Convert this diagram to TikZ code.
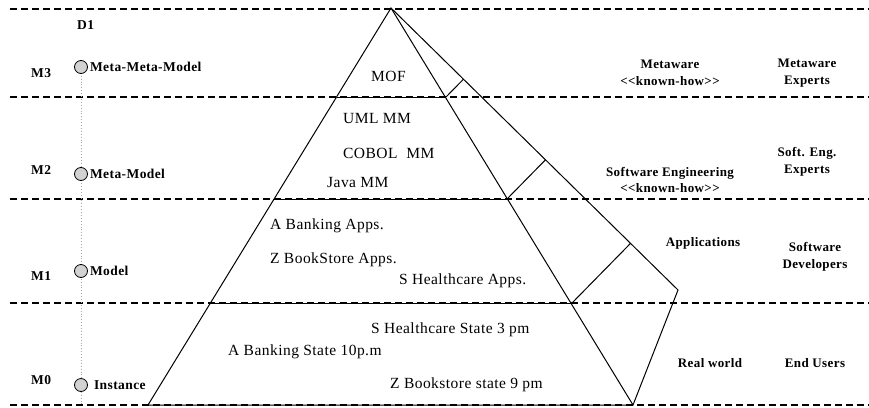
\documentclass[tikz,border=0pt]{standalone}
\usepackage{fontspec}
\setmainfont{Liberation Serif}
\newfontfamily\tagfont[LetterSpace=3]{Liberation Serif}
\usetikzlibrary{calc}
\begin{document}
\begin{tikzpicture}[x=1pt,y=-1pt,
  layer/.style={dash pattern=on 7pt off 4pt, line width=1.2pt},
  edge/.style={line width=1pt},
  lvl/.style={font=\tagfont\bfseries\fontsize{13.5}{14}\selectfont, anchor=west, inner sep=0pt},
  item/.style={font=\tagfont\fontsize{15.5}{16}\selectfont, anchor=west, inner sep=0pt},
  role/.style={font=\tagfont\bfseries\fontsize{13}{16.5}\selectfont, align=center, inner sep=0pt},
  dot/.style={circle, draw, line width=0.8pt, fill=gray!35, minimum size=13pt, inner sep=0pt}]
\useasboundingbox (0,0) rectangle (869,407);

% layer boundaries
\foreach \y in {9,97,199,303,405}
  \draw[layer] (10,\y) -- (869,\y);

% dependency axis with its levels
\coordinate (p3) at (81,67);
\coordinate (p2) at (81,174);
\coordinate (p1) at (81,271);
\coordinate (p0) at (81,385);
\coordinate (axisend) at (81,405);
\draw[gray!70, dotted, line width=0.9pt] (p3) -- (axisend);
\node[dot] (c3) at (p3) {};
\node[dot] (c2) at (p2) {};
\node[dot] (c1) at (p1) {};
\node[dot] (c0) at (p0) {};

\node[lvl] (d1) at (77,25) {D1};
\node[lvl] (m3) at (31,73) {M3};
\node[lvl] (m2) at (31,170) {M2};
\node[lvl] (m1) at (31,276) {M1};
\node[lvl] (m0) at (31,380) {M0};
\node[lvl] (t3) at ([xshift=2pt]c3.east) {Meta-Meta-Model};
\node[lvl] (t2) at ([xshift=2pt]c2.east) {Meta-Model};
\node[lvl] (t1) at ([xshift=2pt]c1.east) {Model};
\node[lvl] (t0) at ([xshift=6pt]c0.east) {Instance};

% pyramid
\coordinate (apex) at (391,8);
\coordinate (l3) at (337,97);  \coordinate (r3) at (446,97);
\coordinate (l2) at (273,199); \coordinate (r2) at (507,199);
\coordinate (l1) at (210,303); \coordinate (r1) at (572,303);
\coordinate (l0) at (148,405); \coordinate (r0) at (633,405);
\coordinate (tip) at (678,290);
\draw[edge, line join=miter] (apex) -- (l0) -- (r0) -- (tip) -- cycle;
\draw[edge] (apex) -- (r0);
\draw[edge] (l3) -- (r3);
\draw[edge] (l2) -- (r2);
\draw[edge] (l1) -- (r1);
\draw[edge] (r3) -- ($(apex)!(r3)!(tip)$);
\draw[edge] (r2) -- ($(apex)!(r2)!(tip)$);
\draw[edge] (r1) -- ($(apex)!(r1)!(tip)$);

% pyramid contents
\node[item] (mof) at (371,76) {MOF};
\node[item] (uml) at (343,118) {UML MM};
\node[item] (cobol) at (343,153) {COBOL\ \ MM};
\node[item] (java) at (327,182) {Java MM};
\node[item] (bankapp) at (270,226) {A Banking Apps.};
\node[item] (bookapp) at (270,260) {Z BookStore Apps.};
\node[item] (healthapp) at (399,281) {S Healthcare Apps.};
\node[item] (healthst) at (371,330) {S Healthcare State 3 pm};
\node[item] (bankst) at (228,352) {A Banking State 10p.m};
\node[item] (bookst) at (390,385) {Z Bookstore state 9 pm};

% knowledge and roles
\node[role] (k3) at (670,73) {Metaware\\{<}{<}known-how{>}{>}};
\node[role] (e3) at (807,73) {Metaware\\Experts};
\node[role] (k2) at (670,180) {Software Engineering\\{<}{<}known-how{>}{>}};
\node[role] (e2) at (807,162) {Soft. Eng.\\Experts};
\node[role] (k1) at (703,243) {Applications};
\node[role] (e1) at (815,257) {Software\\Developers};
\node[role] (k0) at (710,363) {Real world};
\node[role] (e0) at (815,363) {End Users};
\end{tikzpicture}
\end{document}
